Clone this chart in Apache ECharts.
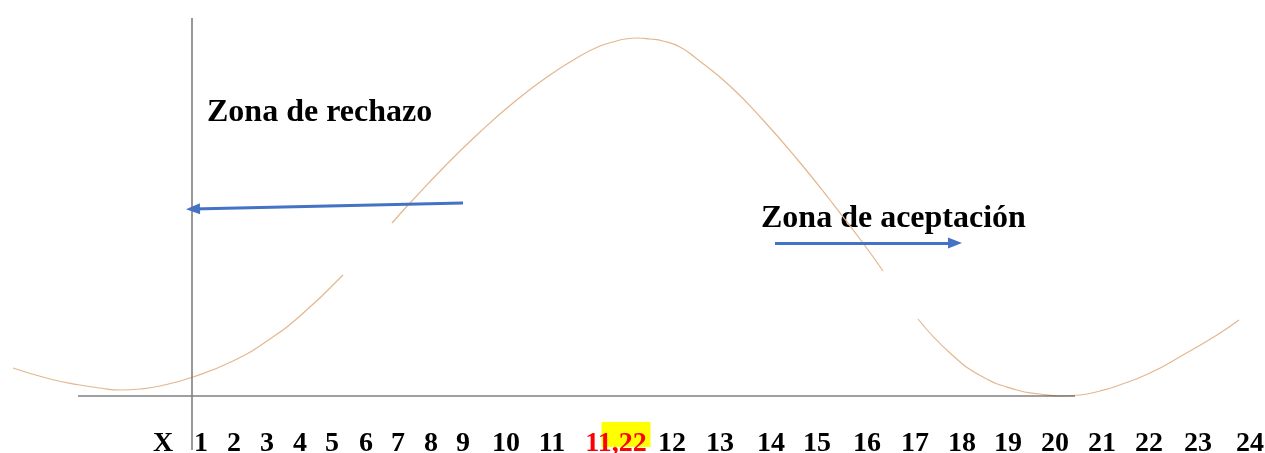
<!DOCTYPE html>
<html>
<head>
<meta charset="utf-8">
<script src="https://cdn.jsdelivr.net/npm/echarts@6.0.0/dist/echarts.min.js"></script>
<style>
  html, body { margin: 0; padding: 0; background: #ffffff; }
  #chart { width: 1265px; height: 453px; }
</style>
</head>
<body>
<div id="chart"></div>
<script>
// Tick labels along the baseline and where they sit on the horizontal scale
const xLabels = ['X','1','2','3','4','5','6','7','8','9','10','11','11,22','12','13','14','15','16','17','18','19','20','21','22','23','24'];
const xLabelValues = [163,201,234,267,300,332,366,398,431,463,506,552,616,672,720,771,817,867,915,962,1008,1055,1102,1149,1198,1250];
// Highlighted tick (yellow marker behind "11,22")
const highlightValues = [626];

// Hand-drawn bell-like curve, three pieces [x, height above baseline]
const curveSeg1 = [[13,28],[50,17],[80,11],[100,8],[120,6],[140,7],[160,10],[193,19],[233,35],[267,55],[300,80],[343,121]];
const curveSeg2 = [[392,173],[410,193],[447,232],[480,264],[513,293],[547,319],[580,340],[600,350],[613,354],[625,357],[638,358],[650,357],[663,355],[680,349],[697,337],[730,310],[763,276],[797,237],[830,196],[863,153],[883,125]];
const curveSeg3 = [[918,77],[950,43],[983,19],[1017,6],[1040,2],[1060,0],[1080,1],[1100,5],[1117,10],[1150,23],[1183,41],[1217,61],[1239,76]];

// Reference lines
const baseLine = [[78,0],[1075,0]];
const criticalLine = [[192,378],[192,-54]];

// Zone arrows [from, to]
const rejectArrow = [[463,193],[193,187]];
const acceptArrow = [[775,153],[955,153]];

const zoneTexts = ['Zona de rechazo', 'Zona de aceptación'];

const SERIF = "'Liberation Serif', 'Times New Roman', serif";
const curveColor = '#E4B68E';
const arrowColor = '#4472C4';

const chart = echarts.init(document.getElementById('chart'), null, { renderer: 'canvas' });

function curveSeries(data) {
  return {
    type: 'line', data: data, smooth: 0.5,
    showSymbol: false, symbol: 'none', silent: true, clip: false,
    lineStyle: { color: curveColor, width: 1.2 }
  };
}

const hiddenAxisParts = { axisLine: { show: false }, axisTick: { show: false }, splitLine: { show: false } };

const option = {
  animation: false,
  backgroundColor: '#ffffff',
  grid: { left: 0, right: 0, top: 0, bottom: 30, containLabel: false, outerBoundsMode: 'none' },
  xAxis: [
    Object.assign({
      type: 'value', min: 0, max: 1265, z: 1, position: 'bottom', offset: 0,
      axisLabel: {
        customValues: highlightValues,
        margin: -1,
        formatter: function () { return '{b| }'; },
        rich: { b: { width: 49, height: 25, backgroundColor: '#FFFF00', fontSize: 10 } }
      }
    }, hiddenAxisParts),
    Object.assign({
      type: 'value', min: 0, max: 1265, z: 2, position: 'bottom', offset: 0,
      axisLabel: {
        customValues: xLabelValues,
        margin: 7,
        formatter: function (v) {
          const i = xLabelValues.indexOf(v);
          const t = i >= 0 ? xLabels[i] : '';
          if (t === '11,22') return '{r|' + t + '}';
          return '{n|' + t + '}';
        },
        rich: {
          n: { fontFamily: SERIF, fontWeight: 'bold', fontSize: 28, color: '#000000', lineHeight: 28 },
          r: { fontFamily: SERIF, fontWeight: 'bold', fontSize: 28, color: '#FF0000', lineHeight: 28 }
        }
      }
    }, hiddenAxisParts)
  ],
  yAxis: { type: 'value', min: -27, max: 396, show: false },
  graphic: [
    { type: 'text', left: 207, top: 97, style: { text: zoneTexts[0], font: 'bold 32px ' + SERIF, fill: '#000000' } },
    { type: 'text', left: 761, top: 203, style: { text: zoneTexts[1], font: 'bold 32px ' + SERIF, fill: '#000000' } }
  ],
  series: [
    curveSeries(curveSeg1),
    curveSeries(curveSeg2),
    curveSeries(curveSeg3),
    { type: 'line', data: baseLine, symbol: 'none', silent: true, clip: false, lineStyle: { color: '#404040', width: 1.2 } },
    { type: 'line', data: criticalLine, symbol: 'none', silent: true, clip: false, lineStyle: { color: '#7F7F7F', width: 1.6 } },
    {
      type: 'line', data: [], silent: true,
      markLine: {
        silent: true, animation: false,
        symbol: ['none', 'triangle'], symbolSize: [11, 14],
        label: { show: false },
        lineStyle: { color: arrowColor, width: 3, type: 'solid' },
        emphasis: { disabled: true },
        data: [
          [{ coord: rejectArrow[0] }, { coord: rejectArrow[1] }],
          [{ coord: acceptArrow[0] }, { coord: acceptArrow[1] }]
        ]
      }
    }
  ]
};
chart.setOption(option);
</script>
</body>
</html>
